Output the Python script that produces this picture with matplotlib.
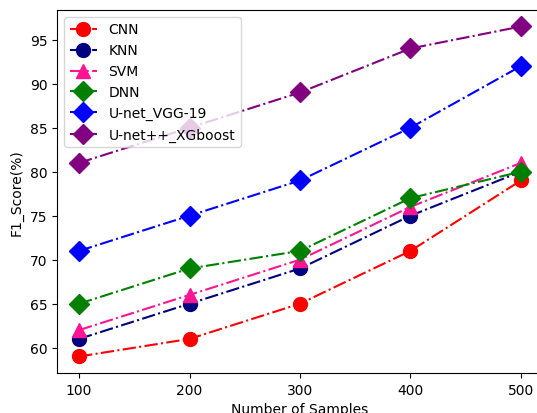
import matplotlib
matplotlib.use("Agg")
import matplotlib.pyplot as plt

# --- Data ---
samples = [100, 200, 300, 400, 500]

cnn = [59, 61, 65, 71, 79]
knn = [61, 65, 69, 75, 80]
svm = [62, 66, 70, 76, 81]
dnn = [65, 69, 71, 77, 80]
unet_vgg = [71, 75, 79, 85, 92]
unetpp_xgb = [81, 85, 89, 94, 96.5]

series = [
    ("CNN", cnn, "red", "o"),
    ("KNN", knn, "navy", "o"),
    ("SVM", svm, "deeppink", "^"),
    ("DNN", dnn, "green", "D"),
    ("U-net_VGG-19", unet_vgg, "blue", "D"),
    ("U-net++_XGboost", unetpp_xgb, "purple", "D"),
]

fig = plt.figure(figsize=(5.37, 4.14), dpi=100)
# axes run past the right edge, as in the cropped original
ax = fig.add_axes([57 / 537, 1 - 374 / 414, (543 - 57) / 537, (374 - 11) / 414])

for label, values, color, marker in series:
    ax.plot(samples, values, linestyle="-.", color=color, marker=marker,
            markersize=10, linewidth=1.5, label=label)

ax.spines["right"].set_visible(False)
ax.set_xticks(samples)
ax.set_xlabel("Number of Samples")
ax.set_ylabel("F1_Score(%)")
ax.legend(loc="upper left")

fig.savefig("out.png", dpi=100)
